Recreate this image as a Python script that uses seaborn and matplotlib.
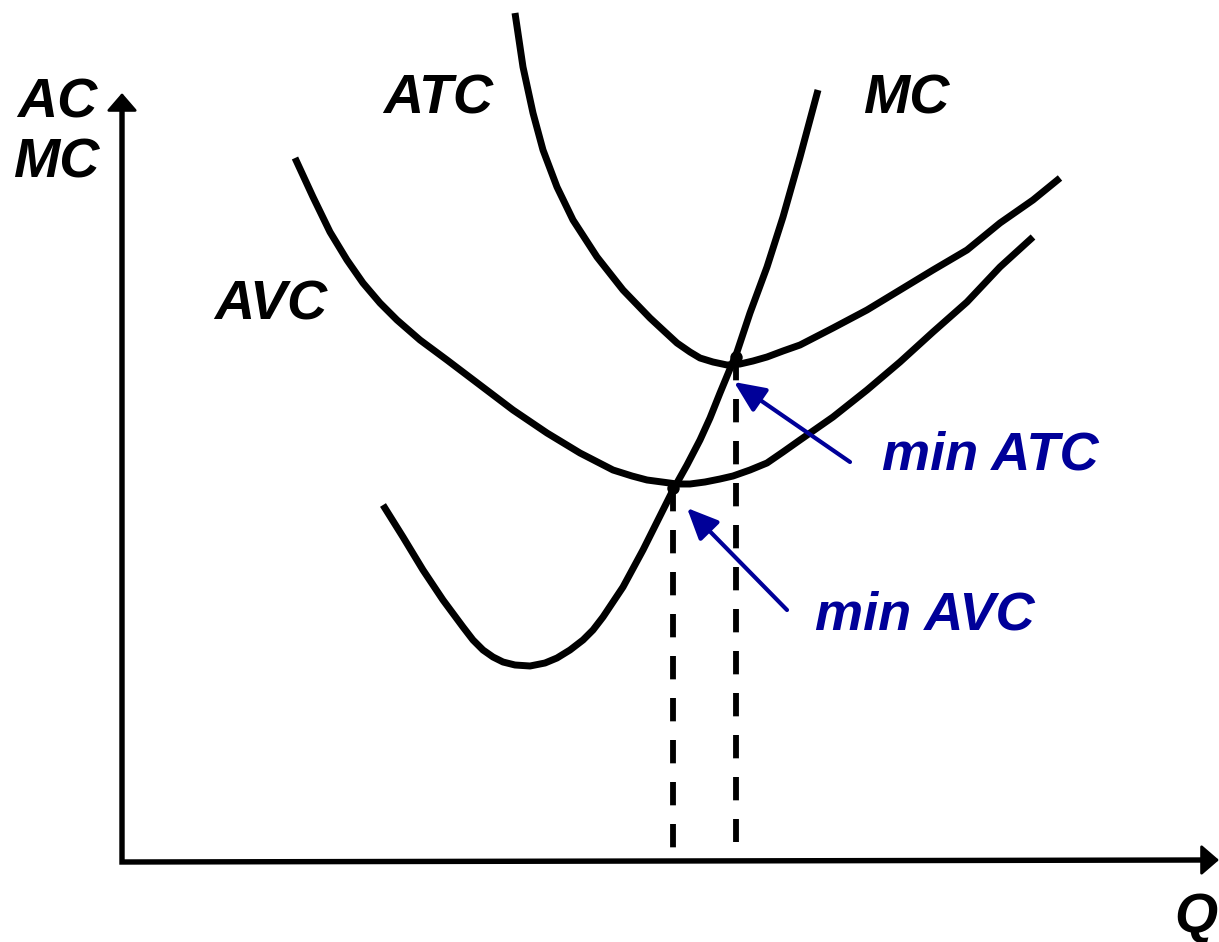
import numpy as np
import pandas as pd
import matplotlib
matplotlib.use("Agg")
import matplotlib.pyplot as plt
import seaborn as sns

sns.set_theme(style="white")
plt.rcParams['font.family'] = ['Liberation Sans', 'DejaVu Sans']

mc_q = [383, 403, 423, 443, 463, 473, 483, 493, 503, 515, 530, 545, 557, 570, 583, 593,
        603, 623, 643, 663, 673, 687, 700, 710, 720, 737, 750, 767, 783, 800, 818]
mc_c = [505, 537, 570, 600, 627, 640, 650, 657, 662, 665, 666, 663, 658, 650, 640, 630,
        617, 587, 550, 510, 490, 465, 440, 418, 393, 352, 313, 267, 217, 157, 90]

avc_q = [295, 313, 330, 347, 363, 380, 397, 420, 447, 480, 513, 547, 580, 613, 632, 647,
         662, 677, 690, 705, 720, 733, 750, 767, 783, 800, 833, 867, 900, 933, 967, 1000, 1033]
avc_c = [158, 197, 232, 260, 283, 303, 320, 340, 360, 385, 410, 433, 453, 470, 476, 480,
         482, 484, 484, 482, 479, 476, 470, 463, 452, 440, 417, 390, 362, 332, 302, 267, 237]

atc_q = [515, 523, 533, 543, 557, 573, 597, 623, 650, 664, 677, 690, 700, 713, 727, 740,
         753, 767, 783, 800, 833, 867, 900, 933, 967, 1000, 1033, 1060]
atc_c = [13, 67, 113, 150, 187, 220, 257, 290, 318, 331, 343, 352, 358, 362, 365, 364,
         361, 357, 351, 345, 328, 310, 290, 270, 250, 223, 200, 178]

# output levels of min AVC and min ATC
q_min = [673, 736]
c_min = [488, 357]

fig = plt.figure(figsize=(12.19, 9.42), dpi=100)
ax = fig.add_axes([0, 0, 1, 1])
ax.set_xlim(0, 1219)
ax.set_ylim(942, 0)
ax.axis('off')

for q, c in [(mc_q, mc_c), (avc_q, avc_c), (atc_q, atc_c)]:
    df = pd.DataFrame({'q': q, 'c': c})
    sns.lineplot(data=df, x='q', y='c', sort=False, color='black', linewidth=5.0,
                 ax=ax, solid_capstyle='butt', solid_joinstyle='round')

# dashed drop lines
for q, c, bottom in zip(q_min, c_min, [850, 842]):
    ax.plot([q, q], [c, bottom], color='black', lw=4.2, ls=(0, (4.0, 3.2)))
ax.scatter(q_min, c_min, s=80, color='black', zorder=5, linewidths=0)

# axes with arrows
ax.plot([122, 122, 1205], [110, 862, 860], color='black', lw=3.9,
        solid_joinstyle='miter', solid_capstyle='projecting')
head = dict(arrowstyle='-|>,head_length=11,head_width=9.5', lw=2, color='black',
            shrinkA=0, shrinkB=0, mutation_scale=1)
ax.annotate('', xy=(122, 93), xytext=(122, 120), arrowprops=head)
ax.annotate('', xy=(1219, 860), xytext=(1195, 860), arrowprops=head)

lab = dict(fontsize=40, fontweight='bold', fontstyle='italic', color='black',
           ha='center', va='baseline')
ax.text(57, 117, 'AC', **lab)
ax.text(56, 177, 'MC', **lab)
ax.text(438, 113, 'ATC', **lab)
ax.text(906, 113, 'MC', **lab)
ax.text(271, 320, 'AVC', **lab)
ax.text(1196, 932, 'Q', **lab)

blue = '#000099'
ax.text(990, 469, 'min ATC', fontsize=39, fontweight='bold', fontstyle='italic',
        color=blue, ha='center', va='baseline')
ax.text(925, 629, 'min AVC', fontsize=39, fontweight='bold', fontstyle='italic',
        color=blue, ha='center', va='baseline')
arrow = dict(arrowstyle='-|>,head_length=19,head_width=8.5', lw=3.0,
             color=blue, shrinkA=0, shrinkB=0, mutation_scale=1)
ax.annotate('', xy=(734, 382), xytext=(850, 462), arrowprops=arrow)
ax.annotate('', xy=(687, 508), xytext=(787, 610), arrowprops=arrow)

fig.savefig('out.png', dpi=100)
